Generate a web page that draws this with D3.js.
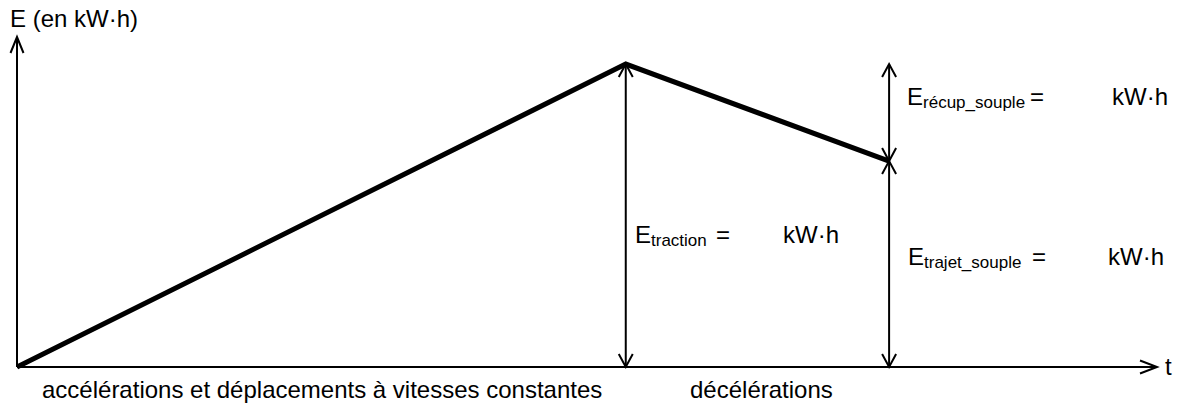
<!DOCTYPE html>
<html><head><meta charset="utf-8">
<script src="https://cdn.jsdelivr.net/npm/d3@7"></script>
<style>
html,body{margin:0;padding:0;background:#fff;}
text{font-family:"Liberation Sans",Arial,sans-serif;fill:#000;}
</style></head>
<body>
<svg id="c" width="1184" height="407"></svg>
<script>
// Data (abstract units)
const times = [0, 53.4, 76.5];          // start, end of traction, end of deceleration
const energies = [0, 91.8, 62.4];       // E at those times
const phaseLabels = ["accélérations et déplacements à vitesses constantes", "décélérations"];
const axisLabels = ["E (en kW·h)", "t"];
const unitLabel = "kW·h";

const svg = d3.select("#c");
const x = d3.scaleLinear().domain([0, 100]).range([17, 1157]);
const y = d3.scaleLinear().domain([0, 100]).range([367, 37]);
const FS = 24, SUB = 17;

function arrowHead(g, tx, ty, dir, len, hw, sw) {
  let pts;
  if (dir === "up") pts = [[tx - hw, ty + len], [tx, ty], [tx + hw, ty + len]];
  else if (dir === "down") pts = [[tx - hw, ty - len], [tx, ty], [tx + hw, ty - len]];
  else pts = [[tx - len, ty - hw], [tx, ty], [tx - len, ty + hw]];
  g.append("path").attr("d", d3.line()(pts)).attr("fill", "none")
    .attr("stroke", "#000").attr("stroke-width", sw).attr("stroke-linejoin", "miter");
}

const g = svg.append("g");
// axes
g.append("line").attr("x1", x(0)).attr("y1", y(0)).attr("x2", x(0)).attr("y2", y(100))
  .attr("stroke", "#000").attr("stroke-width", 2);
arrowHead(g, x(0), y(100), "up", 16, 6.5, 2);
g.append("line").attr("x1", x(0)).attr("y1", y(0)).attr("x2", x(100)).attr("y2", y(0))
  .attr("stroke", "#000").attr("stroke-width", 2);
arrowHead(g, x(100), y(0), "right", 17, 6.5, 2);

// double arrows
function dbl(t, e0, e1) {
  g.append("line").attr("x1", x(t)).attr("y1", y(e0)).attr("x2", x(t)).attr("y2", y(e1))
    .attr("stroke", "#000").attr("stroke-width", 2);
  arrowHead(g, x(t), y(e1), "up", 13, 7, 2);
  arrowHead(g, x(t), y(e0), "down", 13, 7, 2);
}
dbl(times[1], 0, energies[1]);
dbl(times[2], energies[2], energies[1]);
dbl(times[2], 0, energies[2]);

// energy curve
g.append("path")
  .attr("d", d3.line().x((d, i) => x(times[i])).y(d => y(d))(energies))
  .attr("fill", "none").attr("stroke", "#000").attr("stroke-width", 5)
  .attr("stroke-linejoin", "miter").attr("stroke-linecap", "butt");

function txt(s, px, py, size) {
  return svg.append("text").attr("x", px).attr("y", py)
    .attr("font-size", size || FS).text(s);
}
function energyLabel(sub, px, py, eqX, unitX) {
  const t = svg.append("text").attr("x", px).attr("y", py).attr("font-size", FS);
  t.append("tspan").text("E");
  t.append("tspan").attr("font-size", SUB).attr("dy", 3).text(sub);
  txt("=", eqX, py);
  txt(unitLabel, unitX, py);
}

txt(axisLabels[0], 10, 27);
txt(axisLabels[1], 1165, 375);
txt(phaseLabels[0], 42, 398);
txt(phaseLabels[1], 690, 398);

energyLabel("traction", 635, 243, 716, 783);
energyLabel("récup_souple", 907, 105, 1030, 1112);
energyLabel("trajet_souple", 908, 265, 1032, 1108);
</script>
</body></html>
